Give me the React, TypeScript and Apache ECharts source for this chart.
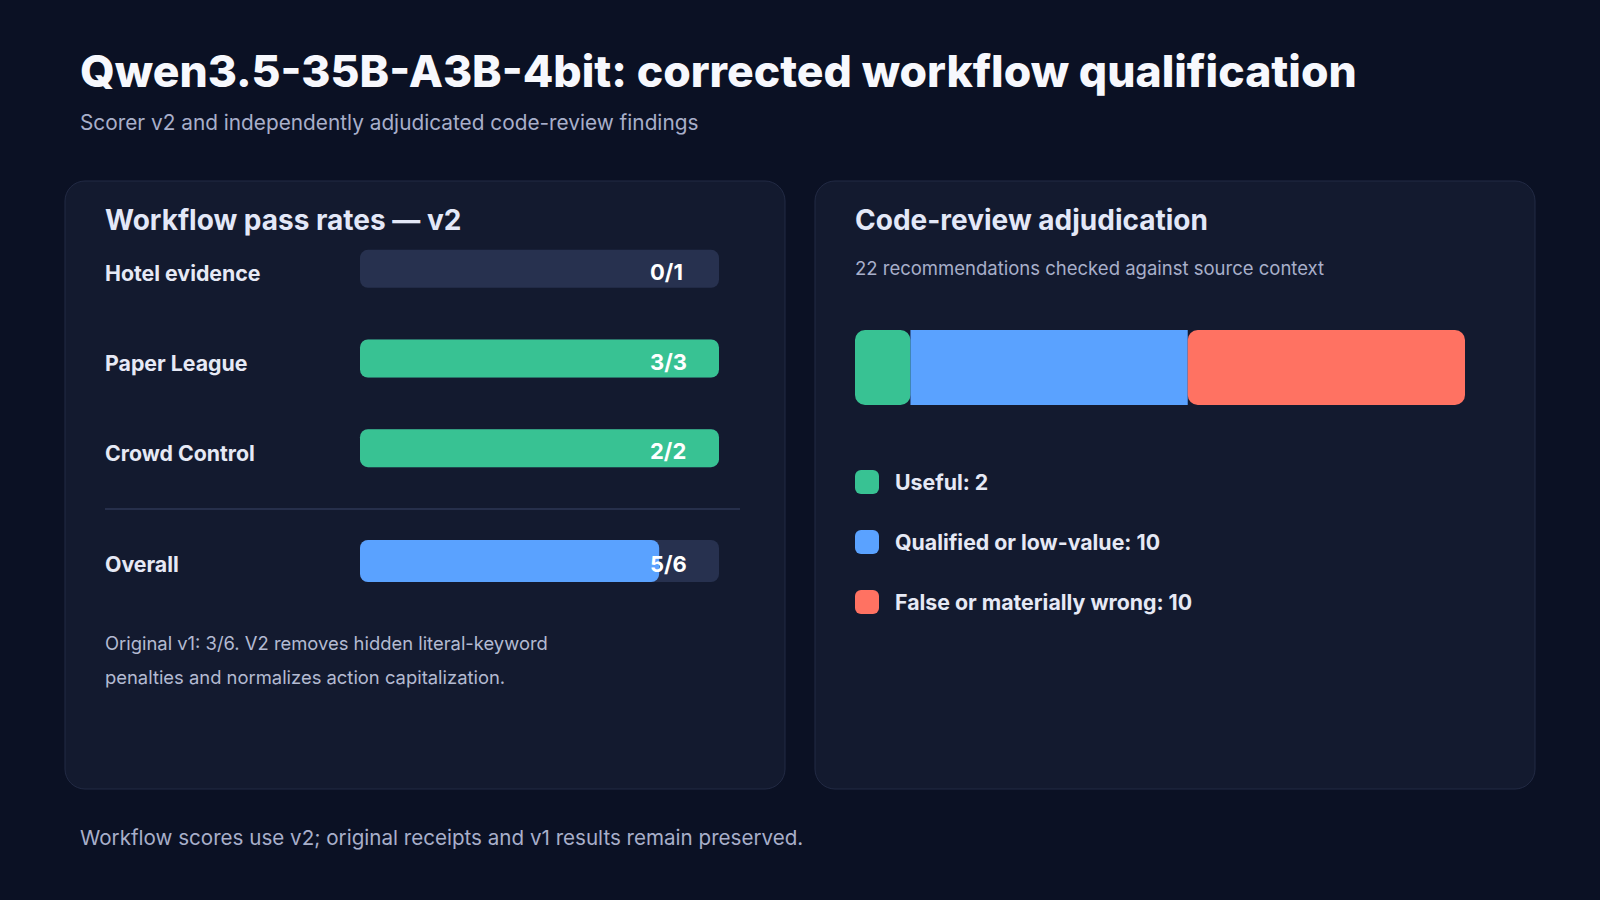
import React, { useEffect, useRef } from "react";
import * as echarts from "echarts";

const workflows = ["Hotel evidence", "Paper League", "Crowd Control"];
const workflowPassed = [0, 3, 2];
const workflowTotal = [1, 3, 2];
const overallLabel = ["Overall"];
const overallPassed = [5];
const overallTotal = [6];

const reviewCategories = ["Useful", "Qualified or low-value", "False or materially wrong"];
const reviewCounts = [2, 10, 10];
const reviewColors = ["#38c293", "#5aa2ff", "#ff7262"];

const FONT = "Inter, 'Noto Sans', sans-serif";
const TRACK = "#27314f";

export default function App() {
  const ref = useRef<HTMLDivElement>(null);

  useEffect(() => {
    if (!ref.current) return;
    const chart = echarts.init(ref.current, undefined, { renderer: "svg" });
    const totalReviews = reviewCounts.reduce((a, b) => a + b, 0);

    const wfRatio = workflowPassed.map((p, i) => p / workflowTotal[i]);
    const ovRatio = overallPassed.map((p, i) => p / overallTotal[i]);

    const rowLabel = (shift: number) => ({
      show: true,
      align: "left" as const,
      verticalAlign: "top" as const,
      lineHeight: shift * 2,
      margin: 255,
      color: "#e6e9f5",
      fontFamily: FONT,
      fontSize: 21.3,
      fontWeight: 700 as const,
    });

    const valueLabel = (passed: number[], total: number[]) => ({
      show: true,
      position: [290, "50%"] as any,
      offset: [0, 3],
      align: "left",
      verticalAlign: "middle",
      color: "#ffffff",
      fontFamily: FONT,
      fontSize: 22,
      fontWeight: 700,
      formatter: (p: any) => `${passed[p.dataIndex]}/${total[p.dataIndex]}`,
    });

    const option: any = {
      animation: false,
      backgroundColor: "#0b1124",
      textStyle: { fontFamily: FONT },
      graphic: [
        {
          type: "rect",
          z: 0,
          shape: { x: 65, y: 181, width: 720, height: 608, r: 20 },
          style: { fill: "#131a2f", stroke: "#222a44", lineWidth: 1 },
        },
        {
          type: "rect",
          z: 0,
          shape: { x: 815, y: 181, width: 720, height: 608, r: 20 },
          style: { fill: "#131a2f", stroke: "#222a44", lineWidth: 1 },
        },
        {
          type: "text",
          x: 80,
          y: 71,
          style: {
            text: "Qwen3.5-35B-A3B-4bit: corrected workflow qualification",
            fill: "#f7f8fd",
            font: `800 44.5px ${FONT}`,
            verticalAlign: "middle",
          },
        },
        {
          type: "text",
          x: 80,
          y: 122,
          style: {
            text: "Scorer v2 and independently adjudicated code-review findings",
            fill: "#a8afca",
            font: `400 20.8px ${FONT}`,
            verticalAlign: "middle",
          },
        },
        {
          type: "text",
          x: 105,
          y: 220,
          style: {
            text: "Workflow pass rates — v2",
            fill: "#e3e8f8",
            font: `700 28px ${FONT}`,
            verticalAlign: "middle",
          },
        },
        {
          type: "line",
          z: 1,
          shape: { x1: 105, y1: 509, x2: 740, y2: 509 },
          style: { stroke: "#262f4b", lineWidth: 2 },
        },
        {
          type: "text",
          x: 105,
          y: 643,
          style: {
            text: "Original v1: 3/6. V2 removes hidden literal-keyword",
            fill: "#b3bad2",
            font: `400 18.4px ${FONT}`,
            verticalAlign: "middle",
          },
        },
        {
          type: "text",
          x: 105,
          y: 677,
          style: {
            text: "penalties and normalizes action capitalization.",
            fill: "#b3bad2",
            font: `400 18.4px ${FONT}`,
            verticalAlign: "middle",
          },
        },
        {
          type: "text",
          x: 855,
          y: 220,
          style: {
            text: "Code-review adjudication",
            fill: "#e3e8f8",
            font: `700 28px ${FONT}`,
            verticalAlign: "middle",
          },
        },
        {
          type: "text",
          x: 855,
          y: 268,
          style: {
            text: `${totalReviews} recommendations checked against source context`,
            fill: "#a8afca",
            font: `400 18.5px ${FONT}`,
            verticalAlign: "middle",
          },
        },
        {
          type: "text",
          x: 80,
          y: 837,
          style: {
            text: "Workflow scores use v2; original receipts and v1 results remain preserved.",
            fill: "#a8afca",
            font: `400 20.6px ${FONT}`,
            verticalAlign: "middle",
          },
        },
      ],
      legend: {
        orient: "vertical",
        left: 855,
        top: 470,
        padding: 0,
        itemWidth: 24,
        itemHeight: 24,
        itemGap: 36,
        icon: "roundRect",
        data: reviewCategories,
        selectedMode: false,
        formatter: (name: string) => `${name}: ${reviewCounts[reviewCategories.indexOf(name)]}`,
        textStyle: {
          color: "#e6e9f5",
          fontFamily: FONT,
          fontSize: 21.3,
          fontWeight: 700,
          padding: [0, 0, 0, 11],
        },
      },
      grid: [
        { left: 360, width: 359, top: 224, height: 269 },
        { left: 360, width: 359, top: 540, height: 42 },
        { left: 855, width: 610, top: 330, height: 75 },
      ],
      xAxis: [
        { type: "value", gridIndex: 0, min: 0, max: 1, show: false },
        { type: "value", gridIndex: 1, min: 0, max: 1, show: false },
        { type: "value", gridIndex: 2, min: 0, max: totalReviews, show: false },
      ],
      yAxis: [
        {
          type: "category",
          gridIndex: 0,
          data: workflows,
          inverse: true,
          axisLine: { show: false },
          axisTick: { show: false },
          splitLine: { show: false },
          axisLabel: rowLabel(4.5),
        },
        {
          type: "category",
          gridIndex: 1,
          data: overallLabel,
          inverse: true,
          axisLine: { show: false },
          axisTick: { show: false },
          splitLine: { show: false },
          axisLabel: rowLabel(2.5),
        },
        {
          type: "category",
          gridIndex: 2,
          data: ["Reviews"],
          show: false,
        },
      ],
      series: [
        {
          type: "bar",
          name: "wf-pass",
          xAxisIndex: 0,
          yAxisIndex: 0,
          data: wfRatio,
          barWidth: 38,
          barGap: "-100%",
          showBackground: true,
          backgroundStyle: { color: TRACK, borderRadius: 8 },
          itemStyle: { color: "#38c293", borderRadius: 8 },
          silent: true,
        },
        {
          type: "bar",
          name: "wf-label",
          xAxisIndex: 0,
          yAxisIndex: 0,
          data: workflowTotal.map(() => 1),
          barWidth: 38,
          barGap: "-100%",
          itemStyle: { color: "rgba(0,0,0,0)" },
          label: valueLabel(workflowPassed, workflowTotal),
          z: 5,
          silent: true,
        },
        {
          type: "bar",
          name: "ov-pass",
          xAxisIndex: 1,
          yAxisIndex: 1,
          data: ovRatio,
          barWidth: 42,
          barGap: "-100%",
          showBackground: true,
          backgroundStyle: { color: TRACK, borderRadius: 8 },
          itemStyle: { color: "#5aa2ff", borderRadius: 8 },
          silent: true,
        },
        {
          type: "bar",
          name: "ov-label",
          xAxisIndex: 1,
          yAxisIndex: 1,
          data: overallTotal.map(() => 1),
          barWidth: 42,
          barGap: "-100%",
          itemStyle: { color: "rgba(0,0,0,0)" },
          label: valueLabel(overallPassed, overallTotal),
          z: 5,
          silent: true,
        },
        ...reviewCategories.map((name, i) => ({
          type: "bar",
          name,
          xAxisIndex: 2,
          yAxisIndex: 2,
          stack: "reviews",
          data: [reviewCounts[i]],
          barWidth: 75,
          itemStyle: {
            color: reviewColors[i],
            borderRadius: i === 1 ? 0 : 10,
          },
          silent: true,
        })),
      ],
    };

    chart.setOption(option);
    return () => chart.dispose();
  }, []);

  return (
    <div
      ref={ref}
      style={{ position: "absolute", left: 0, top: 0, width: 1600, height: 900 }}
    />
  );
}
